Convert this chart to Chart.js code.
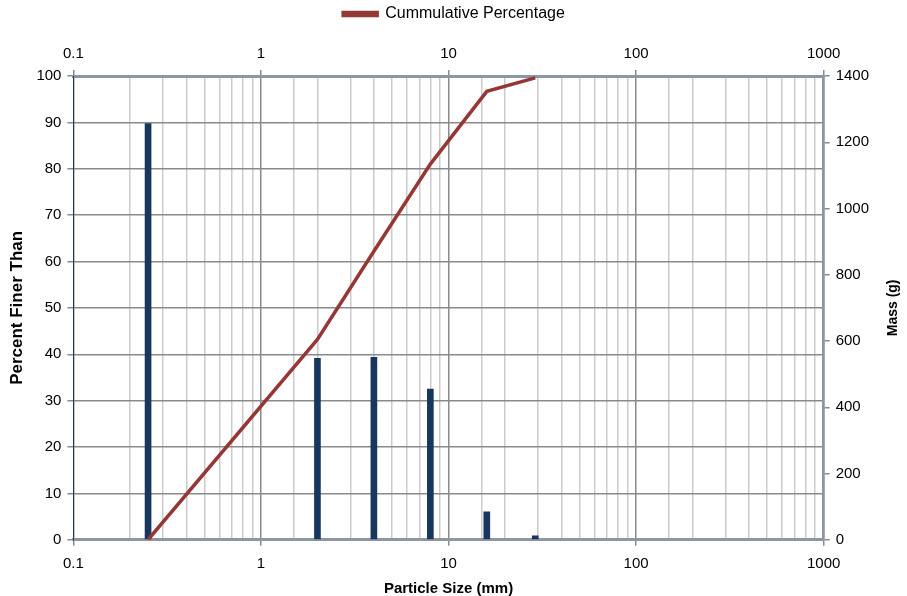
<!DOCTYPE html>
<html>
<head>
<meta charset="utf-8">
<script src="https://cdn.jsdelivr.net/npm/chart.js@4/dist/chart.umd.min.js"></script>
<style>
  html, body { margin: 0; padding: 0; background: #fff; }
  #wrap { width: 907px; height: 596px; }
</style>
</head>
<body>
<div id="wrap"><canvas id="sieveChart"></canvas></div>
<script>
  var sizes = [0.25, 2, 4, 8, 16, 29];
  var massRetained = [1256, 548, 551, 455, 84, 12];
  var cumulativePct = [0, 43.2, 62.2, 81.0, 96.7, 99.6];
  var xTicks = [0.1, 1, 10, 100, 1000];

  var FONT = "'Liberation Sans', Arial, sans-serif";

  function isDecade(v) {
    var l = Math.log10(v);
    return Math.abs(l - Math.round(l)) < 1e-9;
  }

  function points(xs, ys) {
    return xs.map(function (x, i) { return { x: x, y: ys[i] }; });
  }

  // legend sits higher than chart.js puts it, so pad below it
  var legendGap = {
    id: 'legendGap',
    beforeInit: function (chart) {
      var fit = chart.legend.fit;
      chart.legend.fit = function () {
        fit.bind(chart.legend)();
        this.height += 6;
      };
    }
  };

  // right axis title reads bottom-to-top like the left one
  var rightTitle = {
    id: 'rightTitle',
    afterDraw: function (chart) {
      var s = chart.scales.y2;
      var area = chart.chartArea;
      var c = chart.ctx;
      c.save();
      c.translate(s.right - 8, (area.top + area.bottom) / 2);
      c.rotate(-Math.PI / 2);
      c.font = 'bold 14px ' + FONT;
      c.fillStyle = '#000';
      c.textAlign = 'center';
      c.textBaseline = 'middle';
      c.fillText('Mass (g)', 0, 0);
      c.restore();
    }
  };

  var ctx = document.getElementById('sieveChart');
  new Chart(ctx, {
    type: 'line',
    data: {
      datasets: [
        {
          label: 'Cummulative Percentage',
          type: 'line',
          data: points(sizes, cumulativePct),
          xAxisID: 'x',
          yAxisID: 'y',
          borderColor: '#953735',
          backgroundColor: '#953735',
          borderWidth: 3.5,
          pointRadius: 0,
          tension: 0,
          order: 1
        },
        {
          label: 'Mass',
          type: 'bar',
          data: points(sizes, massRetained),
          xAxisID: 'x',
          yAxisID: 'y2',
          backgroundColor: '#17375e',
          borderWidth: 0,
          barThickness: 6,
          order: 2
        }
      ]
    },
    plugins: [legendGap, rightTitle],
    options: {
      responsive: true,
      maintainAspectRatio: false,
      animation: false,
      layout: { padding: { left: 7, right: 6, top: 0, bottom: 0 } },
      plugins: {
        legend: {
          position: 'top',
          labels: {
            font: { family: FONT, size: 16 },
            color: '#000',
            boxWidth: 34,
            boxHeight: 3,
            padding: 6,
            filter: function (item) { return item.text === 'Cummulative Percentage'; }
          }
        },
        tooltip: { enabled: false }
      },
      scales: {
        x: {
          type: 'logarithmic',
          position: 'bottom',
          min: 0.1,
          max: 1000,
          offset: false,
          afterBuildTicks: function (axis) {
            axis.ticks = axis.ticks.filter(function (t) { return t.value >= 0.1 && t.value <= 1000; });
          },
          ticks: {
            autoSkip: false,
            maxRotation: 0,
            color: '#000',
            font: { family: FONT, size: 15 },
            padding: 9,
            callback: function (v) { return isDecade(v) ? String(v) : ''; }
          },
          grid: {
            offset: false,
            color: function (c) { return c.tick && isDecade(c.tick.value) ? '#8a8a8a' : '#cbcbcb'; },
            lineWidth: 1.5,
            tickLength: 6,
            tickColor: function (c) { return c.tick && isDecade(c.tick.value) ? '#8a8a8a' : 'rgba(0,0,0,0)'; }
          },
          border: { color: '#8d96a3', width: 3 },
          title: {
            display: true,
            text: 'Particle Size (mm)',
            color: '#000',
            font: { family: FONT, size: 15, weight: 'bold', lineHeight: 0.95 },
            padding: { top: 0, bottom: 0 }
          }
        },
        xTop: {
          type: 'logarithmic',
          position: 'top',
          min: 0.1,
          max: 1000,
          offset: false,
          afterBuildTicks: function (axis) {
            axis.ticks = xTicks.map(function (v) { return { value: v }; });
          },
          ticks: {
            autoSkip: false,
            maxRotation: 0,
            color: '#000',
            font: { family: FONT, size: 15 },
            padding: 7,
            callback: function (v) { return String(v); }
          },
          grid: {
            drawOnChartArea: false,
            tickLength: 6,
            tickColor: '#8a8a8a',
            lineWidth: 1.5
          },
          border: { color: '#8d96a3', width: 3 }
        },
        y: {
          type: 'linear',
          position: 'left',
          min: 0,
          max: 100,
          ticks: {
            stepSize: 10,
            color: '#000',
            font: { family: FONT, size: 15 },
            padding: 6
          },
          grid: {
            color: '#8a8a8a',
            lineWidth: 1.5,
            tickLength: 6,
            tickColor: '#8a8a8a'
          },
          border: { color: '#1f3864', width: 1 },
          title: {
            display: true,
            text: 'Percent Finer Than',
            color: '#000',
            font: { family: FONT, size: 17, weight: 'bold' },
            padding: { top: 0, bottom: 3 }
          }
        },
        y2: {
          type: 'linear',
          position: 'right',
          min: 0,
          max: 1400,
          afterFit: function (axis) { axis.width += 26; },
          ticks: {
            stepSize: 200,
            color: '#000',
            font: { family: FONT, size: 15 },
            padding: 6,
            callback: function (v) { return String(v); }
          },
          grid: {
            drawOnChartArea: false,
            tickLength: 6,
            tickColor: '#8a8a8a',
            lineWidth: 1.5
          },
          border: { color: '#8d96a3', width: 2.5 }
        }
      }
    }
  });
</script>
</body>
</html>
